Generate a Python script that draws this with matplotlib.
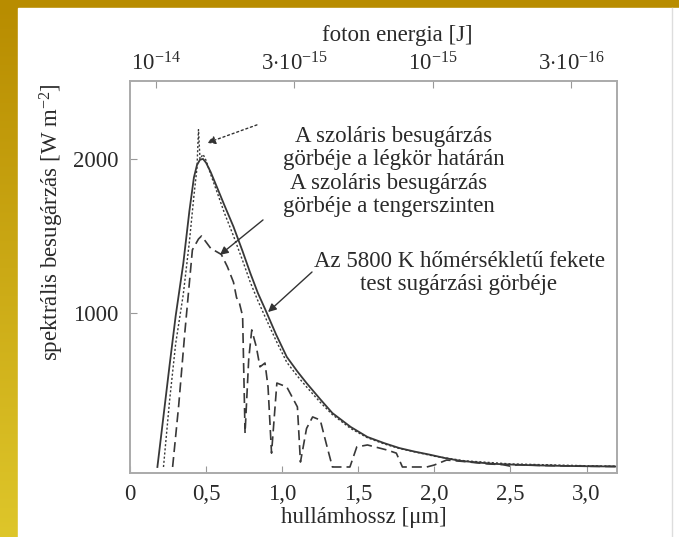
import numpy as np
import matplotlib.pyplot as plt
from matplotlib.patches import Rectangle

plt.rcParams['font.family'] = ['Liberation Serif', 'DejaVu Serif']
plt.rcParams['mathtext.fontset'] = 'custom'
plt.rcParams['mathtext.rm'] = 'Liberation Serif'
plt.rcParams['mathtext.it'] = 'Liberation Serif:italic'

# blackbody curve (5800 K), scaled
bb_wl = [0.18, 0.22, 0.26, 0.30, 0.35, 0.39, 0.42, 0.44, 0.46, 0.48, 0.50, 0.53,
         0.57, 0.62, 0.68, 0.74, 0.79, 0.84, 0.89, 0.96, 1.03, 1.10, 1.16, 1.25,
         1.33, 1.45, 1.56, 1.67, 1.77, 1.87, 1.97, 2.07, 2.17, 2.30, 2.40, 2.55,
         2.70, 2.85, 3.00, 3.20]
bb_val = [0, 330, 660, 980, 1320, 1660, 1880, 1960, 1995, 2000, 1975, 1915,
          1820, 1700, 1560, 1400, 1260, 1130, 1020, 860, 715, 620, 545, 440,
          350, 260, 195, 155, 123, 100, 80, 58, 40, 28, 20, 14,
          10, 7, 5, 3]

# top of atmosphere
toa_wl = [0.22, 0.26, 0.30, 0.35, 0.39, 0.42, 0.44, 0.45, 0.46, 0.48, 0.50, 0.53,
          0.57, 0.62, 0.68, 0.74, 0.79, 0.84, 0.89, 0.96, 1.03, 1.10, 1.16, 1.25,
          1.33, 1.45, 1.56, 1.67, 1.77, 2.00, 2.20, 2.50, 3.00, 3.20]
toa_val = [0, 430, 800, 1120, 1460, 1760, 1940, 2190, 2000, 2030, 1990, 1900,
           1790, 1650, 1500, 1340, 1200, 1080, 970, 820, 680, 590, 520, 420,
           340, 250, 190, 150, 120, 70, 40, 20, 8, 5]

# sea level
sea_wl = [0.28, 0.32, 0.36, 0.41, 0.45, 0.47, 0.53, 0.60, 0.64, 0.68, 0.70, 0.72,
          0.74, 0.756, 0.78, 0.80, 0.83, 0.854, 0.887, 0.907, 0.93, 0.965, 1.03,
          1.10, 1.12, 1.16, 1.20, 1.25, 1.29, 1.33, 1.445, 1.49, 1.56, 1.69, 1.75,
          1.79, 1.95, 2.00, 2.08, 2.20, 2.35, 2.45, 2.50, 2.55, 2.70, 3.00, 3.20]
sea_val = [0, 400, 870, 1410, 1480, 1500, 1420, 1380, 1300, 1200, 1100, 1060,
           980, 220, 700, 890, 780, 650, 675, 520, 90, 545, 520,
           390, 32, 250, 325, 305, 150, 0, 0, 130, 143, 110, 90,
           0, 0, 13, 45, 35, 20, 15, 5, 15, 10, 5, 3]

x_ticks = [0, 0.5, 1.0, 1.5, 2.0, 2.5, 3.0]
x_labels = ['0', '0,5', '1,0', '1,5', '2,0', '2,5', '3,0']
y_ticks = [1000, 2000]
top_ticks = [0.17, 1.08, 1.99, 2.90]
top_labels = [r'$10^{-14}$', r'$3{\cdot}10^{-15}$', r'$10^{-15}$', r'$3{\cdot}10^{-16}$']

W, H = 679, 537
fs = 16.5
fig = plt.figure(figsize=(W / 100, H / 100), dpi=100)

# gold frame background
bg = fig.add_axes([0, 0, 1, 1], zorder=-10)
grad = np.linspace(0, 1, 256).reshape(-1, 1)
top_c = np.array([184, 140, 0]) / 255
bot_c = np.array([222, 198, 42]) / 255
img = top_c + grad[..., None] * (bot_c - top_c)
bg.imshow(img, aspect='auto', extent=[0, 1, 0, 1], origin='upper')
bg.add_patch(Rectangle((18 / W, 0), 1, 1 - 8 / H, color='white'))
bg.plot([672 / W, 672 / W], [0, 1 - 8 / H], color='#dddddd', lw=1)
bg.set_xlim(0, 1)
bg.set_ylim(0, 1)
bg.axis('off')

ax = fig.add_axes([130 / W, 1 - 473 / H, (617 - 130) / W, (473 - 81) / H])
ax.set_facecolor('white')

line_c = '#383838'
ax.plot(bb_wl, bb_val, '-', color=line_c, lw=1.3)
ax.plot(toa_wl, toa_val, color=line_c, lw=1.0, linestyle=(0, (1.5, 1.5)))
ax.plot(sea_wl, sea_val, color=line_c, lw=1.2, linestyle=(0, (6, 3)))

ax.set_xlim(0, 3.2)
ax.set_ylim(-39, 2506)
ax.set_xticks(x_ticks)
ax.set_xticklabels(x_labels)
ax.set_yticks(y_ticks)
ax.tick_params(direction='in', length=5, color='#999999', labelsize=fs,
               labelcolor='#2a2a2a', pad=8)
for s in ax.spines.values():
    s.set_color('#aaaaaa')
    s.set_linewidth(1.2)

top = ax.twiny()
top.set_xlim(ax.get_xlim())
top.set_xticks(top_ticks)
top.set_xticklabels(top_labels)
top.tick_params(direction='in', length=5, color='#999999', labelsize=fs,
                labelcolor='#2a2a2a', pad=4)
for s in top.spines.values():
    s.set_color('#aaaaaa')
    s.set_linewidth(1.2)

tc = '#2a2a2a'
fig.text(364 / W, 1 - 518 / H, 'hullámhossz [μm]', ha='center', va='center',
         fontsize=fs, color=tc)
fig.text(397 / W, 1 - 35 / H, 'foton energia [J]', ha='center', va='center',
         fontsize=fs, color=tc)
fig.text(52 / W, 1 - 222 / H, 'spektrális besugárzás [W m$^{-2}$]', ha='center',
         va='center', rotation=90, fontsize=fs, color=tc)

fig.text(394 / W, 1 - 148 / H, 'A szoláris besugárzás\ngörbéje a légkör határán',
         ha='center', va='center', fontsize=fs, color=tc, linespacing=1.15)
fig.text(389 / W, 1 - 195 / H, 'A szoláris besugárzás\ngörbéje a tengerszinten',
         ha='center', va='center', fontsize=fs, color=tc, linespacing=1.15)
fig.text(459 / W, 1 - 273 / H, 'Az 5800 K hőmérsékletű fekete\ntest sugárzási görbéje',
         ha='center', va='center', fontsize=fs, color=tc, linespacing=1.15)

arrow = dict(arrowstyle='-|>', color='#333333', lw=1.0, mutation_scale=12,
             shrinkA=0, shrinkB=0)
ax.annotate('', xy=(0.506, 2104), xytext=(0.834, 2221),
            arrowprops=dict(arrow, linestyle=(0, (1.5, 2))))
ax.annotate('', xy=(0.591, 1377), xytext=(0.874, 1604), arrowprops=arrow)
ax.annotate('', xy=(0.907, 1006), xytext=(1.196, 1266), arrowprops=arrow)

fig.savefig('out.png', dpi=100)
